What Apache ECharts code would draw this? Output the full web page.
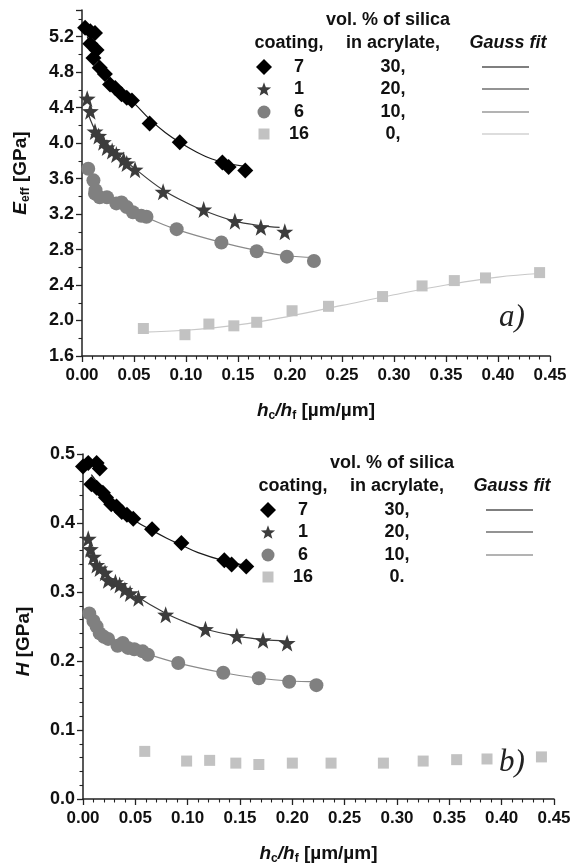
<!DOCTYPE html>
<html>
<head>
<meta charset="utf-8">
<script src="https://cdn.jsdelivr.net/npm/echarts@6/dist/echarts.min.js"></script>
<style>
  html, body { margin: 0; padding: 0; background: #fff; }
  #chart { width: 574px; height: 866px; }
</style>
</head>
<body>
<div id="chart"></div>
<script>
// ---- a) effective modulus E_eff vs h_c/h_f ----
const topX7 = [0.003, 0.008, 0.0125, 0.008, 0.014, 0.011, 0.017, 0.022, 0.027, 0.032, 0.038, 0.043, 0.048, 0.065, 0.094, 0.135, 0.141, 0.157];
const topE7 = [5.30, 5.26, 5.24, 5.12, 5.05, 4.96, 4.85, 4.78, 4.66, 4.62, 4.55, 4.51, 4.48, 4.22, 4.01, 3.78, 3.73, 3.69];
const topX1 = [0.005, 0.008, 0.0125, 0.016, 0.0205, 0.024, 0.029, 0.033, 0.040, 0.043, 0.051, 0.078, 0.117, 0.147, 0.172, 0.195];
const topE1 = [4.50, 4.36, 4.13, 4.08, 4.01, 3.95, 3.91, 3.87, 3.81, 3.77, 3.70, 3.45, 3.25, 3.12, 3.05, 3.00];
const topX6 = [0.006, 0.011, 0.013, 0.0125, 0.017, 0.024, 0.033, 0.038, 0.043, 0.049, 0.057, 0.062, 0.091, 0.134, 0.168, 0.197, 0.223];
const topE6 = [3.71, 3.58, 3.47, 3.43, 3.39, 3.39, 3.32, 3.33, 3.28, 3.22, 3.18, 3.17, 3.03, 2.88, 2.78, 2.72, 2.67];
const topX16 = [0.059, 0.099, 0.122, 0.146, 0.168, 0.202, 0.237, 0.289, 0.327, 0.358, 0.388, 0.440];
const topE16 = [1.91, 1.84, 1.96, 1.94, 1.98, 2.11, 2.16, 2.27, 2.39, 2.45, 2.48, 2.54];

// Gauss fit curves (a)
const fitTopX7 = [0.005, 0.015, 0.025, 0.035, 0.05, 0.065, 0.08, 0.095, 0.11, 0.125, 0.14, 0.155];
const fitTopE7 = [5.20, 4.95, 4.74, 4.60, 4.45, 4.27, 4.12, 4.00, 3.90, 3.82, 3.77, 3.74];
const fitTopX1 = [0.006, 0.015, 0.03, 0.05, 0.078, 0.10, 0.117, 0.147, 0.172, 0.19];
const fitTopE1 = [4.33, 4.10, 3.92, 3.72, 3.47, 3.33, 3.24, 3.12, 3.07, 3.05];
const fitTopX6 = [0.006, 0.015, 0.03, 0.05, 0.062, 0.09, 0.134, 0.168, 0.197, 0.223];
const fitTopE6 = [3.60, 3.45, 3.33, 3.21, 3.16, 3.03, 2.88, 2.79, 2.73, 2.71];
const fitTopX16 = [0.059, 0.10, 0.15, 0.20, 0.25, 0.30, 0.35, 0.40, 0.44];
const fitTopE16 = [1.87, 1.89, 1.95, 2.05, 2.17, 2.29, 2.40, 2.49, 2.53];

// ---- b) hardness H vs h_c/h_f ----
const botX7 = [0.0, 0.005, 0.013, 0.016, 0.008, 0.013, 0.019, 0.022, 0.027, 0.032, 0.037, 0.042, 0.048, 0.066, 0.094, 0.135, 0.142, 0.156];
const botH7 = [0.482, 0.487, 0.487, 0.479, 0.456, 0.451, 0.444, 0.437, 0.427, 0.424, 0.416, 0.412, 0.406, 0.391, 0.371, 0.346, 0.340, 0.337];
const botX1 = [0.005, 0.007, 0.010, 0.013, 0.016, 0.021, 0.024, 0.031, 0.035, 0.040, 0.045, 0.053, 0.079, 0.117, 0.147, 0.172, 0.195];
const botH1 = [0.377, 0.362, 0.351, 0.339, 0.334, 0.328, 0.317, 0.314, 0.310, 0.303, 0.298, 0.291, 0.267, 0.246, 0.236, 0.230, 0.226];
const botX6 = [0.006, 0.010, 0.013, 0.016, 0.020, 0.024, 0.033, 0.038, 0.043, 0.049, 0.057, 0.062, 0.091, 0.134, 0.168, 0.197, 0.223];
const botH6 = [0.269, 0.258, 0.250, 0.240, 0.235, 0.232, 0.222, 0.226, 0.219, 0.217, 0.214, 0.209, 0.197, 0.183, 0.175, 0.170, 0.165];
const botX16 = [0.059, 0.099, 0.121, 0.146, 0.168, 0.200, 0.237, 0.287, 0.325, 0.357, 0.386, 0.438];
const botH16 = [0.069, 0.055, 0.056, 0.052, 0.050, 0.052, 0.052, 0.052, 0.055, 0.057, 0.058, 0.061];

// Gauss fit curves (b)
const fitBotX7 = [0.008, 0.02, 0.03, 0.04, 0.05, 0.065, 0.08, 0.094, 0.11, 0.135, 0.157];
const fitBotH7 = [0.470, 0.447, 0.430, 0.415, 0.403, 0.390, 0.378, 0.368, 0.357, 0.345, 0.338];
const fitBotX1 = [0.005, 0.015, 0.03, 0.05, 0.078, 0.10, 0.117, 0.147, 0.172, 0.195];
const fitBotH1 = [0.360, 0.335, 0.317, 0.295, 0.270, 0.255, 0.246, 0.236, 0.231, 0.229];
const fitBotX6 = [0.010, 0.02, 0.04, 0.062, 0.091, 0.134, 0.168, 0.197, 0.223];
const fitBotH6 = [0.250, 0.237, 0.222, 0.210, 0.197, 0.183, 0.175, 0.171, 0.170];

// legend table text
const coatingIds = ['7', '1', '6', '16'];
const silicaTop = ['30,', '20,', '10,', '0,'];
const silicaBot = ['30,', '20,', '10,', '0.'];

const STAR = 'path://M0,-100 L23.5,-32.4 L95.1,-30.9 L38,12.4 L58.8,80.9 L0,40 L-58.8,80.9 L-38,12.4 L-95.1,-30.9 L-23.5,-32.4 Z';
const markColor = ['#000000', '#3c3c3c', '#808080', '#c2c2c2'];
const markSymbol = ['diamond', STAR, 'circle', 'rect'];
const markSize = [16, 17, 14, 11];
const fitColor = ['#1a1a1a', '#3a3a3a', '#8a8a8a', '#c8c8c8'];
const legendLineColor = ['#555555', '#6f6f6f', '#9a9a9a', '#d2d2d2'];

const zip = (xs, ys) => xs.map((x, i) => [x, ys[i]]);
const FONT = '"Liberation Sans", Arial, sans-serif';

function scatter(name, idx, xs, ys, gi) {
  return {
    type: 'scatter', name: name, xAxisIndex: gi, yAxisIndex: gi,
    data: zip(xs, ys), symbol: markSymbol[idx], symbolSize: markSize[idx],
    itemStyle: { color: markColor[idx], opacity: 1 }, z: 3
  };
}
function fit(idx, xs, ys, gi) {
  return {
    type: 'line', xAxisIndex: gi, yAxisIndex: gi, data: zip(xs, ys),
    smooth: 0.4, showSymbol: false, symbol: 'none', silent: true,
    lineStyle: { color: fitColor[idx], width: 1.2 }, z: 2
  };
}

const nameRich = {
  i: { fontFamily: FONT, fontStyle: 'italic', fontWeight: 'bold', fontSize: 19, color: '#111' },
  s: { fontFamily: FONT, fontWeight: 'bold', fontSize: 12, color: '#111', padding: [10, 0, 0, 0] },
  n: { fontFamily: FONT, fontWeight: 'bold', fontSize: 19, color: '#111' }
};

function xAxis(gi) {
  return {
    type: 'value', gridIndex: gi, min: 0, max: 0.45, interval: 0.05,
    name: '{i|h}{s|c}{i|/h}{s|f}{n| [µm/µm]}', nameLocation: 'middle', nameGap: 44,
    nameTextStyle: { rich: nameRich },
    axisLine: { onZero: false, lineStyle: { color: '#222', width: 1.5 } },
    axisTick: { length: 6, lineStyle: { color: '#222', width: 1.3 } },
    minorTick: { show: true, splitNumber: 5, length: 3.5, lineStyle: { color: '#222', width: 1.1 } },
    splitLine: { show: false },
    axisLabel: { fontFamily: FONT, fontWeight: 'bold', fontSize: 17, color: '#111', margin: 11,
      formatter: v => v.toFixed(2) }
  };
}
function yAxis(gi, min, max, interval, minorSplit, dec, title, showMax, namePad) {
  return {
    type: 'value', gridIndex: gi, min: min, max: max, interval: interval,
    name: title, nameLocation: 'middle', nameRotate: 90, nameGap: 50,
    nameTextStyle: { rich: nameRich, padding: namePad },
    axisLine: { onZero: false, lineStyle: { color: '#222', width: 1.5 } },
    axisTick: { length: 6, lineStyle: { color: '#222', width: 1.3 } },
    minorTick: { show: true, splitNumber: minorSplit, length: 3.5, lineStyle: { color: '#222', width: 1.1 } },
    splitLine: { show: false },
    axisLabel: { fontFamily: FONT, fontWeight: 'bold', fontSize: 18, color: '#111', margin: 8,
      showMaxLabel: showMax, formatter: v => v.toFixed(dec) }
  };
}

// custom legend table drawn as graphics
function legendTable(ox, oy, silica, withFit) {
  const els = [];
  const txt = (x, y, s, extra) => els.push({
    type: 'text', x: ox + x, y: oy + y,
    style: Object.assign({ text: s, fontFamily: FONT, fontWeight: 'bold', fontSize: 18,
      fill: '#111', align: 'center', verticalAlign: 'middle' }, extra || {})
  });
  txt(388, 20, 'vol. % of silica');
  txt(289, 43, 'coating,');
  txt(393, 43, 'in acrylate,');
  txt(508, 43, 'Gauss fit', { fontStyle: 'italic' });
  const rowY = [67, 89, 112, 134];
  coatingIds.forEach((id, k) => {
    const y = rowY[k];
    const cx = 264;
    if (k === 0) {
      els.push({ type: 'polygon', shape: { points: [[ox + cx, oy + y - 8], [ox + cx + 8, oy + y], [ox + cx, oy + y + 8], [ox + cx - 8, oy + y]] }, style: { fill: markColor[0] } });
    } else if (k === 1) {
      const pts = [];
      for (let j = 0; j < 10; j++) {
        const a = -Math.PI / 2 + j * Math.PI / 5;
        const r = j % 2 === 0 ? 7.5 : 3.1;
        pts.push([ox + cx + r * Math.cos(a), oy + y + 0.8 + r * Math.sin(a)]);
      }
      els.push({ type: 'polygon', shape: { points: pts }, style: { fill: markColor[1] } });
    } else if (k === 2) {
      els.push({ type: 'circle', shape: { cx: ox + cx, cy: oy + y, r: 6.5 }, style: { fill: markColor[2] } });
    } else {
      els.push({ type: 'rect', shape: { x: ox + cx - 5.5, y: oy + y - 5.5, width: 11, height: 11 }, style: { fill: markColor[3] } });
    }
    txt(299, y, id);
    txt(393, y, silica[k]);
    if (withFit[k]) {
      els.push({ type: 'line', shape: { x1: ox + 482, y1: oy + y, x2: ox + 529, y2: oy + y },
        style: { stroke: legendLineColor[k], lineWidth: 1.3 } });
    }
  });
  return els;
}

const chart = echarts.init(document.getElementById('chart'), null, { renderer: 'canvas' });
chart.setOption({
  backgroundColor: '#ffffff',
  animation: false,
  grid: [
    { left: 82, top: 10, width: 468, height: 346 },
    { left: 83, top: 454, width: 471, height: 348 }
  ],
  xAxis: [xAxis(0), xAxis(1)],
  yAxis: [
    yAxis(0, 1.6, 5.5, 0.4, 2, 1, '{i|E}{s|eff}{n| [GPa]}', false, [0, 0, 0, 20]),
    yAxis(1, 0, 0.5, 0.1, 5, 1, '{i|H}{n| [GPa]}', true, [0, 30, 0, 0])
  ],
  series: [
    fit(0, fitTopX7, fitTopE7, 0), fit(1, fitTopX1, fitTopE1, 0),
    fit(2, fitTopX6, fitTopE6, 0), fit(3, fitTopX16, fitTopE16, 0),
    scatter('7', 0, topX7, topE7, 0), scatter('1', 1, topX1, topE1, 0),
    scatter('6', 2, topX6, topE6, 0), scatter('16', 3, topX16, topE16, 0),
    fit(0, fitBotX7, fitBotH7, 1), fit(1, fitBotX1, fitBotH1, 1), fit(2, fitBotX6, fitBotH6, 1),
    scatter('7', 0, botX7, botH7, 1), scatter('1', 1, botX1, botH1, 1),
    scatter('6', 2, botX6, botH6, 1), scatter('16', 3, botX16, botH16, 1)
  ],
  graphic: [
    ...legendTable(0, 0, silicaTop, [true, true, true, true]),
    ...legendTable(4, 443, silicaBot, [true, true, true, false]),
    { type: 'text', x: 512, y: 318, style: { text: 'a)', fontFamily: '"Liberation Serif", "Times New Roman", serif', fontStyle: 'italic', fontSize: 31, fill: '#222', align: 'center', verticalAlign: 'middle' } },
    { type: 'text', x: 512, y: 763, style: { text: 'b)', fontFamily: '"Liberation Serif", "Times New Roman", serif', fontStyle: 'italic', fontSize: 31, fill: '#222', align: 'center', verticalAlign: 'middle' } }
  ]
});
</script>
</body>
</html>
